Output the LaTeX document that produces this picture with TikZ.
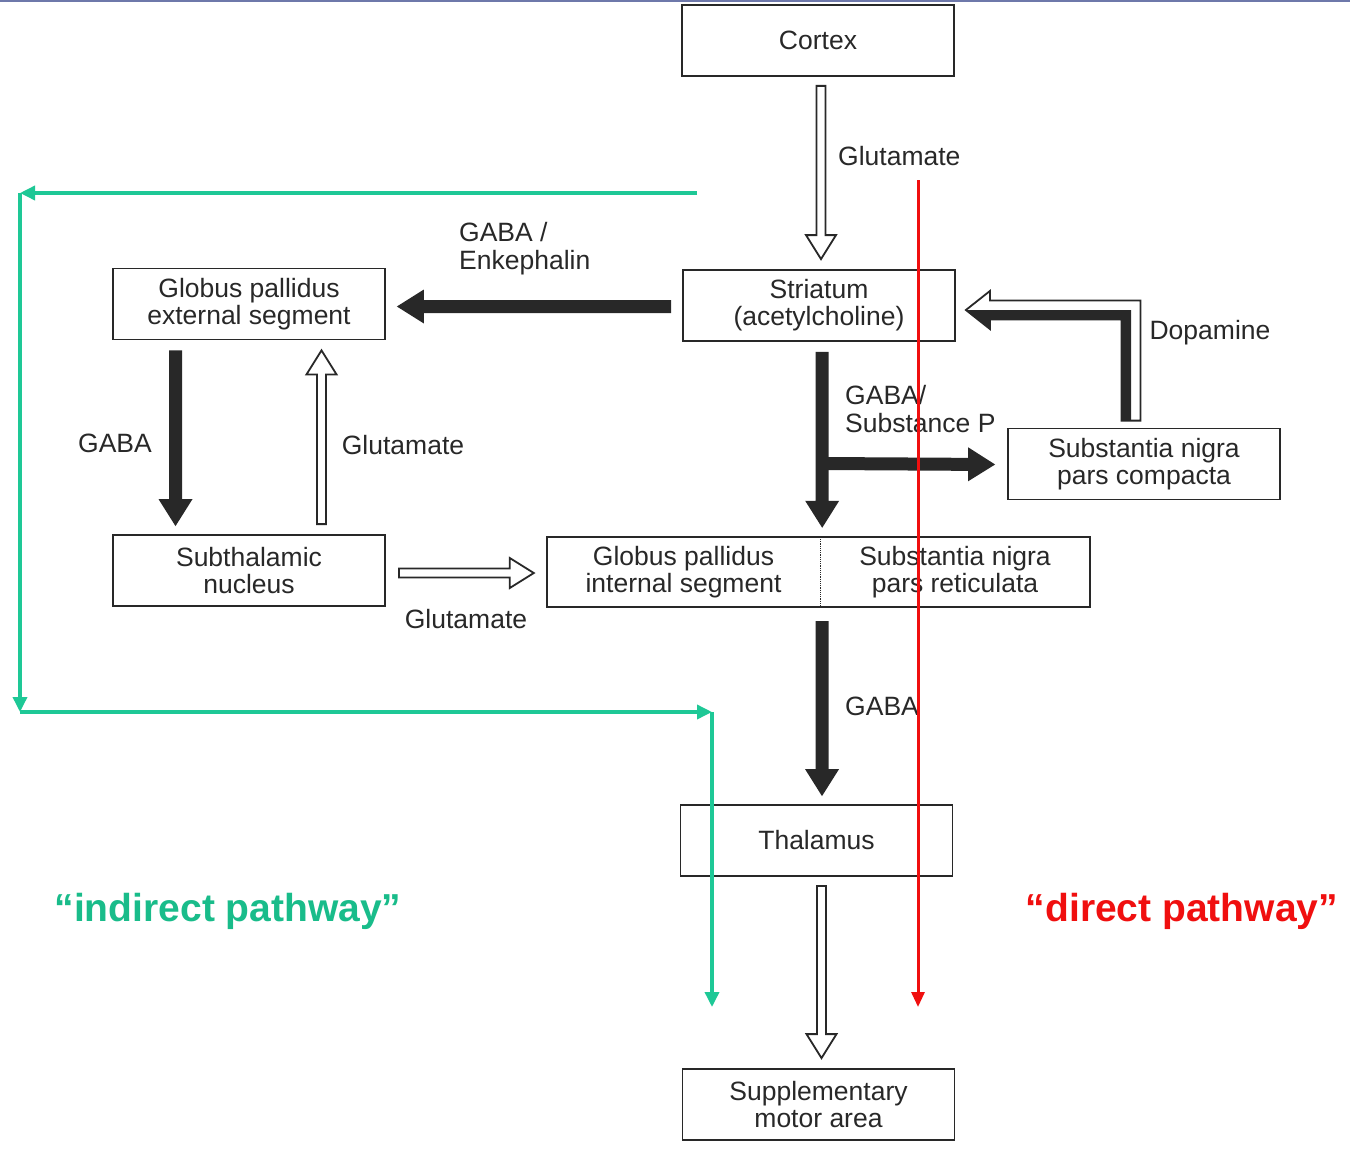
\documentclass[tikz,border=0pt]{standalone}
\usepackage{fontspec}
\setmainfont{Liberation Sans}
\usetikzlibrary{calc,arrows.meta}
\definecolor{ink}{RGB}{40,40,40}
\definecolor{indgreen}{RGB}{30,200,150}
\definecolor{indtext}{RGB}{25,188,138}
\definecolor{dirred}{RGB}{240,15,15}
\definecolor{topline}{RGB}{110,120,170}
\begin{document}
\begin{tikzpicture}[x=1pt,y=-1pt,
  regionbox/.style={draw=ink, line width=1.8pt, fill=white, minimum width=272pt, minimum height=71pt, inner sep=0pt, align=center, text=ink, font=\fontsize{26.5}{27}\selectfont},
  regiontext/.style={inner sep=0pt, align=center, text=ink, font=\fontsize{26.5}{27}\selectfont},
  lbl/.style={inner sep=0pt, text=ink, font=\fontsize{26.5}{27.5}\selectfont, align=left},
  blockarrow/.style n args={3}{to path={let \p1=(\tikztostart), \p2=(\tikztotarget), \p3=($(\p2)!#3!(\p1)$) in ($(\p1)!#1!90:(\p2)$) -- ($(\p3)!#1!90:(\p2)$) -- ($(\p3)!#2!90:(\p2)$) -- (\p2) -- ($(\p3)!#2!-90:(\p2)$) -- ($(\p3)!#1!-90:(\p2)$) -- ($(\p1)!#1!-90:(\p2)$) -- cycle}},
  solidarrow/.style={blockarrow={6.5pt}{17pt}{27pt}, fill=ink, draw=none},
  hollowarrow/.style={blockarrow={4.5pt}{15pt}{24pt}, fill=white, draw=ink, line width=1.8pt, line join=miter},
  indirectpath/.style={draw=indgreen, line width=3.5pt, -{Triangle[length=15pt,width=14pt]}},
  directpath/.style={draw=dirred, line width=3pt, -{Triangle[length=15pt,width=13pt]}},
  pathlabel/.style={inner sep=0pt, font=\fontsize{39}{39}\selectfont\bfseries},
]
\useasboundingbox (0,0) rectangle (1350,1164);
\fill[white] (0,0) rectangle (1350,1164);
\fill[topline] (0,0) rectangle (1350,2.5);

% boxes
\node[regionbox] (cortex) at (818,40.5) {Cortex};
\node[regionbox] (str) at (819,305.5) {Striatum\\(acetylcholine)};
\node[regionbox] (gpe) at (249,304) {Globus pallidus\\external segment};
\node[regionbox] (stn) at (249,570.5) {Subthalamic\\nucleus};
\node[regiontext, minimum width=273pt, minimum height=70pt] (gpi) at (683.5,572) {Globus pallidus\\internal segment};
\node[regiontext, minimum width=270pt, minimum height=70pt] (snr) at (955,572) {Substantia nigra\\pars reticulata};
\draw[ink, line width=1.8pt] (gpi.north west) rectangle (snr.south east);
\draw[ink, line width=1.2pt, densely dotted] (gpi.north east) -- (gpi.south east);
\node[regionbox] (snc) at (1144,464) {Substantia nigra\\pars compacta};
\node[regionbox] (thal) at (816.5,840.5) {Thalamus};
\node[regionbox] (sma) at (818.5,1104.5) {Supplementary\\motor area};

% block arrows
\path[hollowarrow] ([xshift=3pt,yshift=-9pt]cortex.south) to ([xshift=2pt,yshift=10pt]str.north);
\path[solidarrow] ([xshift=-11pt,yshift=-1pt]str.west) to ([xshift=11pt,yshift=-2.5pt]gpe.east);
\path[solidarrow] ([xshift=-73.5pt,yshift=-10pt]gpe.south) to ([xshift=-73.5pt,yshift=8pt]stn.north);
\path[hollowarrow] ([xshift=72.5pt,yshift=10pt]stn.north) to ([xshift=72.5pt,yshift=-10pt]gpe.south);
\path[hollowarrow] ([xshift=13pt,yshift=-2.5pt]stn.east) to ([xshift=-13pt,yshift=-1pt]gpi.west);
\path[solidarrow] ([xshift=3pt,yshift=-10pt]str.south) to ([xshift=2pt,yshift=9pt]gpi.north east);
\coordinate (branch) at (822,463.5);
\path[solidarrow] (branch) to ([xshift=-12pt,yshift=-0.5pt]snc.west);
\path[solidarrow] ([xshift=2pt,yshift=-14pt]gpi.south east) to ([xshift=5.5pt,yshift=8pt]thal.north);
\path[hollowarrow] ([xshift=5pt,yshift=-9pt]thal.south) to ([xshift=3pt,yshift=10pt]sma.north);

% dopamine arrow
\coordinate (dopS) at ([xshift=-13pt,yshift=7pt]snc.north);
\coordinate (dopT) at ([xshift=10pt,yshift=-4.5pt]str.east);
\filldraw[fill=white, draw=ink, line width=1.8pt, line join=miter] let \p1=(dopS), \p2=(dopT) in
  ({\x1+9.5pt},\y1) -- ({\x1+9.5pt},{\y2+9.5pt}) -- ({\x2+24pt},{\y2+9.5pt}) -- ({\x2+24pt},{\y2+19pt}) -- (\x2,\y2) -- ({\x2+24pt},{\y2-19pt}) -- ({\x2+24pt},{\y2-9.5pt}) -- ({\x1-9.5pt},{\y2-9.5pt}) -- ({\x1-9.5pt},\y1) -- cycle;
\fill[ink] let \p1=(dopS), \p2=(dopT) in
  (\x1,\y1) -- (\x1,\y2) -- (\x2,\y2) -- ({\x2+24pt},{\y2-19pt}) -- ({\x2+24pt},{\y2-9.5pt}) -- ({\x1-9.5pt},{\y2-9.5pt}) -- ({\x1-9.5pt},\y1) -- cycle;

% labels
\node[lbl, anchor=west] (l1) at (838,156) {Glutamate};
\node[lbl, anchor=west] (l2) at (459,248.5) {GABA /\\Enkephalin};
\node[lbl] (l3) at (115,443) {GABA};
\node[lbl] (l4) at (403,445) {Glutamate};
\node[lbl] (l5) at (466,619) {Glutamate};
\node[lbl, anchor=west] (l6) at (845,409) {GABA/\\Substance P};
\node[lbl] (l7) at (1210,333) {Dopamine};
\node[lbl, anchor=west] (l8) at (845,706) {GABA};

\node[pathlabel, text=indtext] (indlbl) at (228,911) {“indirect pathway”};
\node[pathlabel, text=dirred] (dirlbl) at (1182,911) {“direct pathway”};

% indirect pathway (green)
\coordinate (g0) at (697,193);
\coordinate (g1) at (20,193);
\coordinate (g2) at (20,712);
\coordinate (g3) at (712,712);
\coordinate (g4) at (712,1007);
\draw[indirectpath] (g0) -- (g1);
\draw[indirectpath] (g1) -- (g2);
\draw[indirectpath] (g2) -- (g3);
\draw[indirectpath] (g3) -- (g4);

% direct pathway (red)
\coordinate (r0) at (918,180);
\coordinate (r1) at (918,1007);
\draw[directpath] (r0) -- (r1);
\end{tikzpicture}
\end{document}
